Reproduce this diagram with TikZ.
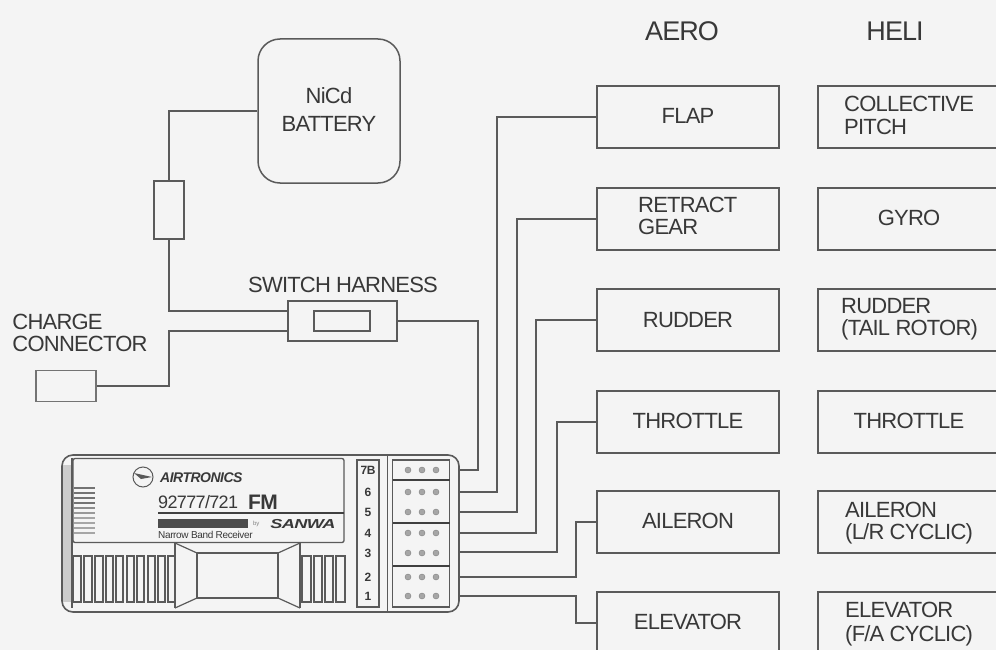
\documentclass[tikz,border=0pt]{standalone}
\usepackage{fontspec}
\setmainfont[LetterSpace=-3.6]{Liberation Sans}
\definecolor{bgc}{HTML}{F4F4F4}
\definecolor{inkc}{HTML}{5A5A5A}
\definecolor{txtc}{HTML}{383838}
\newcommand{\fsz}[1]{\fontsize{#1}{#1}\selectfont}
\newcommand{\up}[1]{\raisebox{1.5pt}{#1}}
\tikzset{
  boxn/.style={draw=inkc,line width=1.6pt,minimum width=182pt,minimum height=62pt,inner sep=0pt,text=txtc,font=\fsz{22}},
  helin/.style={boxn,minimum width=182pt},
  lab/.style={inner sep=0pt,text=txtc,font=\fsz{22},align=left},
  head/.style={inner sep=0pt,text=txtc,font=\fsz{27}},
  wire/.style={draw=inkc,line width=1.6pt,line join=miter},
  part/.style={draw=inkc,line width=1.5pt,inner sep=0pt},
  pin/.style={inner sep=0pt,text=txtc,font=\bfseries\fsz{12}},
  dot/.style={circle,fill=gray!70,draw=gray,line width=.4pt,minimum size=6pt,inner sep=0pt},
  thin/.style={draw=inkc,line width=1.2pt},
  sep/.style={draw=black!75,line width=2pt},
}
\begin{document}
\begin{tikzpicture}[x=1pt,y=-1pt]
\useasboundingbox (0,0) rectangle (996,650);
\fill[bgc] (0,0) rectangle (996,650);
\clip (0,0) rectangle (996,650);
% headings
\node[head] (aero) at (682,31) {AERO};
\node[head] (heli) at (895,31) {HELI};
% AERO boxes
\node[boxn] (flap) at (688,117) {\up{FLAP}};
\node[boxn] (retract) at (688,219) {};
\node[lab,anchor=west] (retractt) at (638,216) {RETRACT\\[-0.5pt]GEAR};
\node[boxn] (rudder) at (688,320) {RUDDER};
\node[boxn] (throttle) at (688,422) {\up{THROTTLE}};
\node[boxn] (aileron) at (688,522) {\up{AILERON}};
\node[boxn] (elevator) at (688,623) {\up{ELEVATOR}};
% HELI boxes
\node[helin] (coll) at (909,117) {};
\node[lab,anchor=west] (collt) at (844,115.5) {COLLECTIVE\\[0.5pt]PITCH};
\node[helin] (gyro) at (909,219) {\up{GYRO}};
\node[helin] (hrud) at (909,320) {};
\node[lab,anchor=west] (hrudt) at (841,319) {RUDDER\\[0pt](TAIL ROTOR)};
\node[helin] (hthr) at (909,422) {\up{THROTTLE}};
\node[helin] (hail) at (909,522) {};
\node[lab,anchor=west] (hailt) at (845,523) {AILERON\\[0pt](L/R CYCLIC)};
\node[helin] (hele) at (909,623) {};
\node[lab,anchor=west] (helet) at (845,624) {ELEVATOR\\[2pt](F/A CYCLIC)};
% battery
\node[part,rounded corners=22pt,minimum width=142pt,minimum height=144pt,lab,draw=inkc,align=center] (batt) at (329,111) {\raisebox{5pt}{NiCd}\\[4pt]\raisebox{3pt}{BATTERY}};
% inline connector
\node[part,minimum width=30pt,minimum height=58pt] (fuse) at (169,210) {};
% switch
\node[lab] (swt) at (343,285) {SWITCH HARNESS};
\node[part,minimum width=109pt,minimum height=40pt] (sw) at (342.5,321) {};
\node[part,minimum width=56pt,minimum height=20pt] (swi) at (342,321) {};
\coordinate (swu) at (288,311);
\coordinate (swl) at (288,331);
% charge
\node[lab] (cht) at (80,333) {CHARGE\\[0.5pt]CONNECTOR};
\node[part,minimum width=60pt,minimum height=31pt,draw=gray!90!black] (ch) at (66,386) {};
% device
\node[draw=inkc,line width=1.6pt,rounded corners=11pt,minimum width=397pt,minimum height=157pt,inner sep=0pt] (dev) at (260.5,533.5) {};
\node[draw=inkc,line width=1.3pt,rounded corners=2pt,minimum width=271pt,minimum height=84pt,inner sep=0pt] (panel) at (208.5,500.5) {};
\fill[gray!40] (63,465) rectangle (72,602);
\draw[thin] (72,458) -- (72,608);
% stripes
\foreach \yy/\cc in {488/55,493/55,498/55,503/55,508/45,513/40,518/35,523/35,528/35,533/35}
  \draw[draw=black!\cc,line width=1.2pt] (74,\yy) -- (95,\yy);
% logo
\node[draw=inkc,circle,line width=1pt,minimum size=20pt,inner sep=0pt] (logo) at (143,477) {};
\fill[inkc] (134,473) -- (152,477) -- (141,479) -- cycle;
\node[inner sep=0pt,text=txtc,font=\bfseries\itshape\fsz{14},anchor=west] (air) at (160,478) {AIRTRONICS};
\node[inner sep=0pt,text=txtc,font=\fsz{18},anchor=west] (model) at (158,502) {92777/721};
\node[inner sep=0pt,text=txtc,font=\bfseries\fsz{21},anchor=west] (fm) at (248,502) {FM};
\draw[draw=black!75,line width=1.6pt] (158,513) -- (344,513);
\fill[black!70] (158,519) rectangle (248,528);
\node[inner sep=0pt,text=gray,font=\fsz{6},anchor=west] (by) at (253,524) {by};
\node[inner sep=0pt,text=txtc,font=\bfseries\itshape\fsz{13},anchor=west,xscale=1.4,transform shape] (sanwa) at (270,524) {SANWA};
\node[inner sep=0pt,text=txtc,font=\fsz{10},anchor=west] (narrow) at (158,535) {Narrow Band Receiver};
% vents
\foreach \xa/\xb in {73/81,84/92,95/103,106/113,116/123,127/134,137/144,148/155,158/165,168/175,
                     302/311,314/322,325/333,336/345}
  \draw[thin] (\xa,556) rectangle (\xb,602);
% center piece
\fill[bgc] (175,543) -- (197,553) -- (278,553) -- (300,543) -- (300,608) -- (278,598) -- (197,598) -- (175,608) -- cycle;
\draw[thin] (175,543) -- (197,553) (175,608) -- (197,598) (300,543) -- (278,553) (300,608) -- (278,598);
\draw[thin] (175,543) -- (175,608) (300,543) -- (300,608);
\node[draw=inkc,line width=1.5pt,minimum width=81pt,minimum height=45pt,inner sep=0pt] (screen) at (237.5,575.5) {};
% pin strip
\node[draw=inkc,line width=1.2pt,minimum width=22pt,minimum height=147pt,inner sep=0pt] (strip) at (368,533.5) {};
\draw[thin] (387.5,455) -- (387.5,612);
\foreach \nm/\yy/\tx in {a/470/7B,b/492/6,c/512/5,d/533/4,e/553/3,f/577/2,g/596/1}
  \node[pin] (n\nm) at (368,\yy) {\tx};
% connector block
\node[draw=inkc,line width=1.2pt,minimum width=57pt,minimum height=147pt,inner sep=0pt] (block) at (421,533.5) {};
\draw[sep] (393,480) -- (450,480) (393,523) -- (450,523) (393,566) -- (450,566);
\foreach \yy in {470,492,512,533,553,577,596}
  \foreach \xx in {408,422,436}
    \node[dot] at (\xx,\yy) {};
% device outputs
\coordinate (p1) at (459,470);
\coordinate (p2) at (459,492);
\coordinate (p3) at (459,512);
\coordinate (p4) at (459,533);
\coordinate (p5) at (459,552);
\coordinate (p6) at (459,577);
\coordinate (p7) at (459,596);
% wires
\draw[wire] (batt.west) -| (fuse.north);
\draw[wire] (fuse.south) |- (swu);
\draw[wire] (ch.east) -- ++(72,0) |- (swl);
\draw[wire] (sw.east) -- ++(80,0) |- (p1);
\draw[wire] (p2) -- ++(38,0) |- (flap.west);
\draw[wire] (p3) -- ++(58,0) |- (retract.west);
\draw[wire] (p4) -- ++(77,0) |- (rudder.west);
\draw[wire] (p5) -- ++(98,0) |- (throttle.west);
\draw[wire] (p6) -- ++(117,0) |- (aileron.west);
\draw[wire] (p7) -- ++(117,0) |- (elevator.west);
\end{tikzpicture}
\end{document}
